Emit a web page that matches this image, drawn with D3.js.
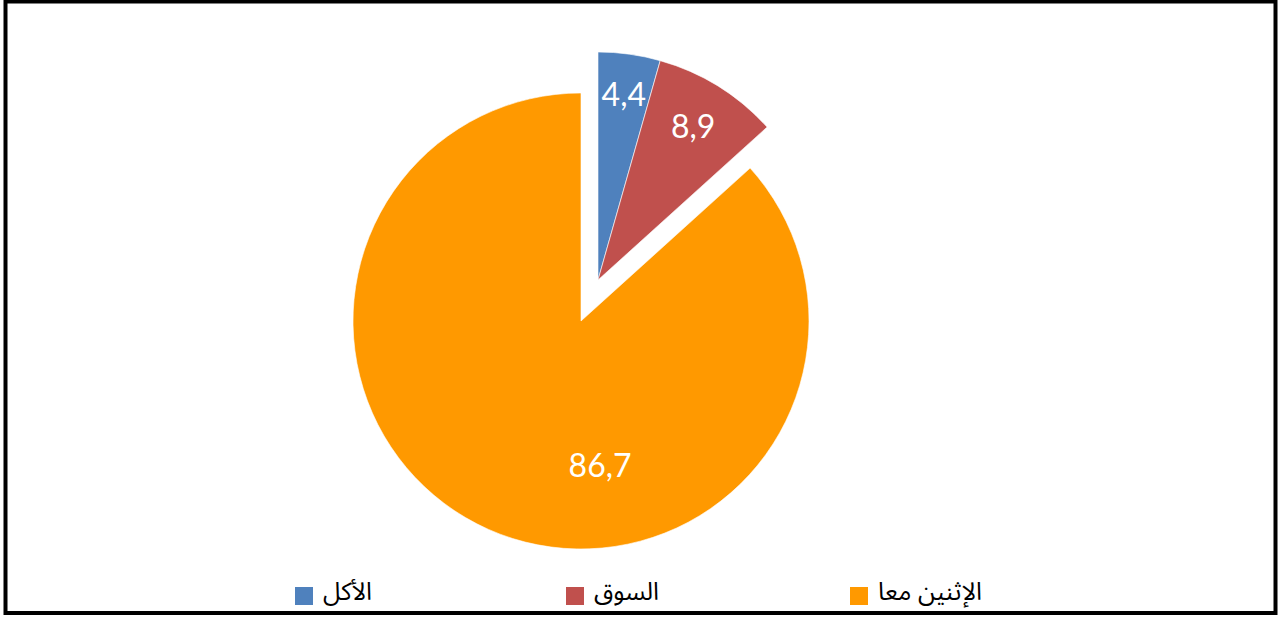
<!DOCTYPE html>
<html>
<head>
<meta charset="utf-8">
<script src="https://cdn.jsdelivr.net/npm/d3@7"></script>
<style>
  body { margin: 0; background: #fff; }
  svg { display: block; }
</style>
</head>
<body>
<div id="container"></div>
<script>
var categories = ["الأكل", "السوق", "الإثنين معا"];
var values = [4.4, 8.9, 86.7];
var labels = ["4,4", "8,9", "86,7"];
var colors = ["#4F81BD", "#C0504D", "#FF9900"];
var exploded = [true, true, false];

var width = 1278,
    height = 617;

var svg = d3.select("#container").append("svg")
    .attr("width", width)
    .attr("height", height);

// frame
svg.append("rect")
    .attr("x", 5.5).attr("y", 1.5)
    .attr("width", 1270).attr("height", 611.5)
    .attr("fill", "#fff")
    .attr("stroke", "#000")
    .attr("stroke-width", 4);

var cx = 581, cy = 321, radius = 228;
var explode = [17, -41];

var pie = d3.pie().sort(null).value(function(d) { return d; });
var arcs = pie(values);

var arc = d3.arc().innerRadius(0).outerRadius(radius);

var g = svg.append("g").attr("transform", "translate(" + cx + "," + cy + ")");

var slices = g.selectAll("g.slice")
    .data(arcs)
    .enter().append("g")
    .attr("class", "slice")
    .attr("transform", function(d, i) {
        return exploded[i] ? "translate(" + explode[0] + "," + explode[1] + ")" : null;
    });

slices.append("path")
    .attr("d", arc)
    .attr("fill", function(d, i) { return colors[i]; })
    .attr("stroke", "#fff")
    .attr("stroke-width", 0.6);

// label placement (radius fraction, angle override in degrees) tuned to Excel
var labelR = [0.82, 0.79, 0.64];
var labelDeg = [null, null, 172.5];
slices.append("text")
    .attr("transform", function(d, i) {
        var a = labelDeg[i] != null ? labelDeg[i] * Math.PI / 180 : (d.startAngle + d.endAngle) / 2;
        var r = radius * labelR[i];
        return "translate(" + (Math.sin(a) * r) + "," + (-Math.cos(a) * r) + ")";
    })
    .attr("text-anchor", "middle")
    .attr("dy", "0.35em")
    .attr("fill", "#fff")
    .style("font-family", "Lato, 'Open Sans', sans-serif")
    .style("font-size", "32px")
    .text(function(d, i) { return labels[i]; });

// legend
var legendX = [295, 566, 850];
var legend = svg.selectAll("g.legend")
    .data(categories)
    .enter().append("g")
    .attr("class", "legend")
    .attr("transform", function(d, i) { return "translate(" + legendX[i] + ",587)"; });

legend.append("rect")
    .attr("width", 18).attr("height", 18)
    .attr("fill", function(d, i) { return colors[i]; });

legend.append("text")
    .attr("x", 28)
    .attr("y", 13)
    .attr("fill", "#000")
    .style("font-family", "'Noto Sans Arabic', 'Noto Naskh Arabic', 'DejaVu Sans', sans-serif")
    .style("font-size", "25px")
    .text(function(d) { return d; });
</script>
</body>
</html>
